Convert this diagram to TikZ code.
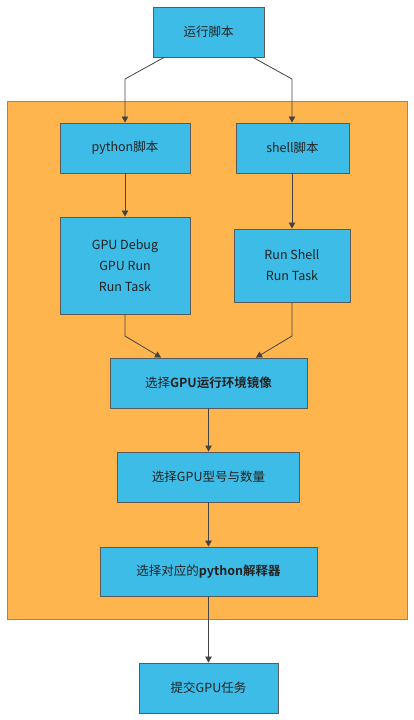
\documentclass[tikz,border=0pt]{standalone}
\usepackage{fontspec}
\setmainfont{Noto Sans CJK SC}[BoldFont={Noto Sans CJK SC Bold}]
\usetikzlibrary{arrows.meta}
\definecolor{boxblue}{HTML}{3DBCE7}
\definecolor{panel}{HTML}{FFB54D}
\definecolor{edge}{HTML}{5A5A5A}
\definecolor{txt}{HTML}{222222}
\definecolor{wire}{HTML}{444444}
\begin{document}
\begin{tikzpicture}[x=1pt,y=-1pt,
  stepbox/.style={draw=edge,line width=0.9pt,fill=boxblue,rectangle,inner sep=0pt,
    text=txt,font=\fontsize{12.5}{21}\selectfont,align=center},
  conn/.style={draw=wire,line width=0.8pt,-{Triangle[width=6.5pt,length=6pt]}}]
\useasboundingbox (0,0) rectangle (414,720);
\fill[white] (0,0) rectangle (414,720);
\draw[fill=panel,draw=edge!70,line width=0.9pt] (7,101) rectangle (407,619);
\node[stepbox,minimum width=111pt,minimum height=50pt] (top) at (208.5,32) {运行脚本};
\node[stepbox,minimum width=130pt,minimum height=50pt] (py) at (125,148) {python脚本};
\node[stepbox,minimum width=113pt,minimum height=50pt] (sh) at (292.5,148) {shell脚本};
\node[stepbox,minimum width=130pt,minimum height=97pt] (gpu) at (125,265.5) {GPU Debug\\GPU Run\\Run Task};
\node[stepbox,minimum width=116pt,minimum height=73pt] (rs) at (292,265.5) {Run Shell\\Run Task};
\node[stepbox,minimum width=197pt,minimum height=50pt] (env) at (208.5,383) {选择\textbf{GPU运行环境镜像}};
\node[stepbox,minimum width=182pt,minimum height=50pt] (num) at (208.5,477) {选择GPU型号与数量};
\node[stepbox,minimum width=217pt,minimum height=49pt] (interp) at (208.5,571.5) {选择对应的\textbf{python解释器}};
\node[stepbox,minimum width=139pt,minimum height=50pt] (sub) at (208.5,688) {提交GPU任务};
\coordinate (b1) at (125,79);
\coordinate (b2) at (292,79);
\coordinate (b3) at (125,336);
\coordinate (b4) at (292,336);
\draw[conn] ([xshift=-44.5pt]top.south) -- (b1) -- (py.north);
\draw[conn] ([xshift=44.5pt]top.south) -- (b2) -- ([xshift=-0.5pt]sh.north);
\draw[conn] (py.south) -- (gpu.north);
\draw[conn] ([xshift=-0.5pt]sh.south) -- (rs.north);
\draw[conn] (gpu.south) -- (b3) -- ([xshift=-47.5pt]env.north);
\draw[conn] (rs.south) -- (b4) -- ([xshift=47.5pt]env.north);
\draw[conn] (env.south) -- (num.north);
\draw[conn] (num.south) -- (interp.north);
\draw[conn] (interp.south) -- (sub.north);
\end{tikzpicture}
\end{document}
